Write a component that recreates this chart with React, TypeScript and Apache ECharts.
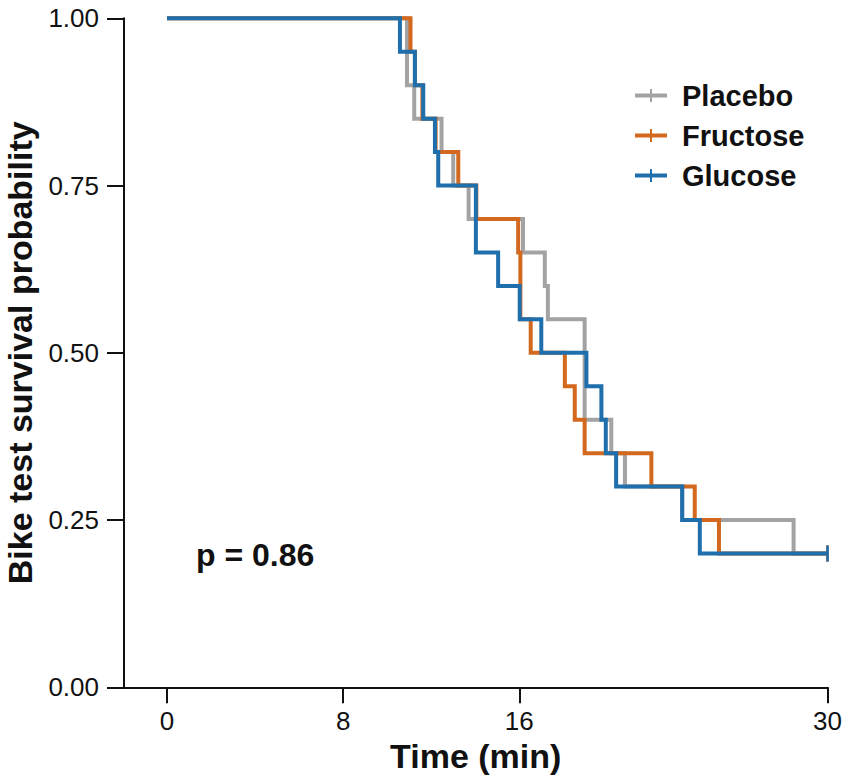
import React, { useEffect, useRef } from "react";
import * as echarts from "echarts";

const groups = ["Placebo", "Fructose", "Glucose"];
const colors = ["#A3A3A3", "#D2691E", "#1F6FAD"];

const placeboTimes = [0, 10.9, 11.23, 12.47, 13.0, 13.7, 16.17, 17.16, 17.3, 18.97, 20.18, 20.8, 23.4, 28.46, 30];
const placeboSurv = [1.0, 0.9, 0.85, 0.8, 0.75, 0.7, 0.65, 0.6, 0.55, 0.4, 0.35, 0.3, 0.25, 0.2, 0.2];

const fructoseTimes = [0, 11.06, 11.26, 11.6, 12.2, 13.23, 14.05, 15.95, 16.05, 16.52, 18.07, 18.52, 18.97, 22.0, 23.97, 25.07, 30];
const fructoseSurv = [1.0, 0.95, 0.9, 0.85, 0.8, 0.75, 0.7, 0.65, 0.55, 0.5, 0.45, 0.4, 0.35, 0.3, 0.25, 0.2, 0.2];

const glucoseTimes = [0, 10.58, 11.26, 11.64, 12.17, 12.32, 14.03, 15.04, 16.02, 17.0, 19.05, 19.73, 19.93, 20.4, 23.4, 24.2, 30];
const glucoseSurv = [1.0, 0.95, 0.9, 0.85, 0.8, 0.75, 0.65, 0.6, 0.55, 0.5, 0.45, 0.4, 0.35, 0.3, 0.25, 0.2, 0.2];

const xTicks = [0, 8, 16, 30];
const xMin = -1.953;
const xMax = 30;
const pValueLabel = "p = 0.86";
const xTitle = "Time (min)";
const yTitle = "Bike test survival probability";

const FONT = "Liberation Sans, Arial, Helvetica, sans-serif";
const INK = "#111111";

function makeData(times: number[], surv: number[]) {
  return times.map((t, i) =>
    i === times.length - 1
      ? { value: [t, surv[i]], symbol: "rect", symbolSize: [2.5, 16] }
      : { value: [t, surv[i]], symbol: "none" }
  );
}

export default function App() {
  const ref = useRef<HTMLDivElement>(null);
  useEffect(() => {
    const chart = echarts.init(ref.current as HTMLDivElement, null, { renderer: "svg" });
    const allTimes = [placeboTimes, fructoseTimes, glucoseTimes];
    const allSurv = [placeboSurv, fructoseSurv, glucoseSurv];
    const series = groups.map((g, i) => ({
      type: "line",
      name: g,
      step: "end",
      data: makeData(allTimes[i], allSurv[i]),
      showSymbol: true,
      symbol: "none",
      clip: false,
      silent: true,
      lineStyle: { width: 4, color: colors[i], cap: "butt", join: "miter" },
      itemStyle: { color: colors[i] },
      emphasis: { disabled: true },
      z: 2 + i,
    }));
    chart.setOption({
      animation: false,
      backgroundColor: "#ffffff",
      textStyle: { fontFamily: FONT },
      grid: {
        left: 124,
        right: 23.5,
        top: 18.3,
        bottom: 94.7,
        containLabel: false,
        outerBoundsMode: "none",
      },
      xAxis: {
        type: "value",
        min: xMin,
        max: xMax,
        axisLine: { show: true, onZero: false, lineStyle: { color: INK, width: 2 } },
        axisTick: { show: true, length: 16, lineStyle: { color: INK, width: 2 }, customValues: xTicks },
        axisLabel: { customValues: xTicks, margin: 21, fontSize: 26, color: INK, fontFamily: FONT },
        splitLine: { show: false },
        name: xTitle,
        nameLocation: "middle",
        nameGap: 46,
        nameTextStyle: { fontSize: 34, fontWeight: "bold", color: INK, fontFamily: FONT },
      },
      yAxis: {
        type: "value",
        min: 0,
        max: 1,
        interval: 0.25,
        axisLine: { show: true, onZero: false, lineStyle: { color: INK, width: 2 } },
        axisTick: { show: true, length: 17, lineStyle: { color: INK, width: 2 } },
        axisLabel: {
          margin: 25,
          fontSize: 26,
          color: INK,
          fontFamily: FONT,
          formatter: (v: number) => v.toFixed(2),
        },
        splitLine: { show: false },
        name: yTitle,
        nameLocation: "middle",
        nameGap: 87,
        nameTextStyle: { fontSize: 34, fontWeight: "bold", color: INK, fontFamily: FONT },
      },
      legend: {
        orient: "vertical",
        left: 630,
        top: 76,
        itemWidth: 32,
        itemHeight: 13,
        itemGap: 11,
        selectedMode: false,
        icon: "path://M0,4.5h32v4H0zM15,0h2v13h-2z",
        textStyle: { fontSize: 29, fontWeight: "bold", color: INK, fontFamily: FONT, padding: [0, 0, 0, 10] },
        data: groups.map((g, i) => ({ name: g, itemStyle: { color: colors[i], borderWidth: 0 } })),
      },
      graphic: [
        {
          type: "text",
          left: 196,
          top: 539,
          style: { text: pValueLabel, font: `bold 32px ${FONT}`, fill: INK },
        },
      ],
      series,
    });
    return () => chart.dispose();
  }, []);
  return (
    <div
      ref={ref}
      style={{ position: "fixed", left: 0, top: 0, width: 851, height: 782, background: "#fff" }}
    />
  );
}
